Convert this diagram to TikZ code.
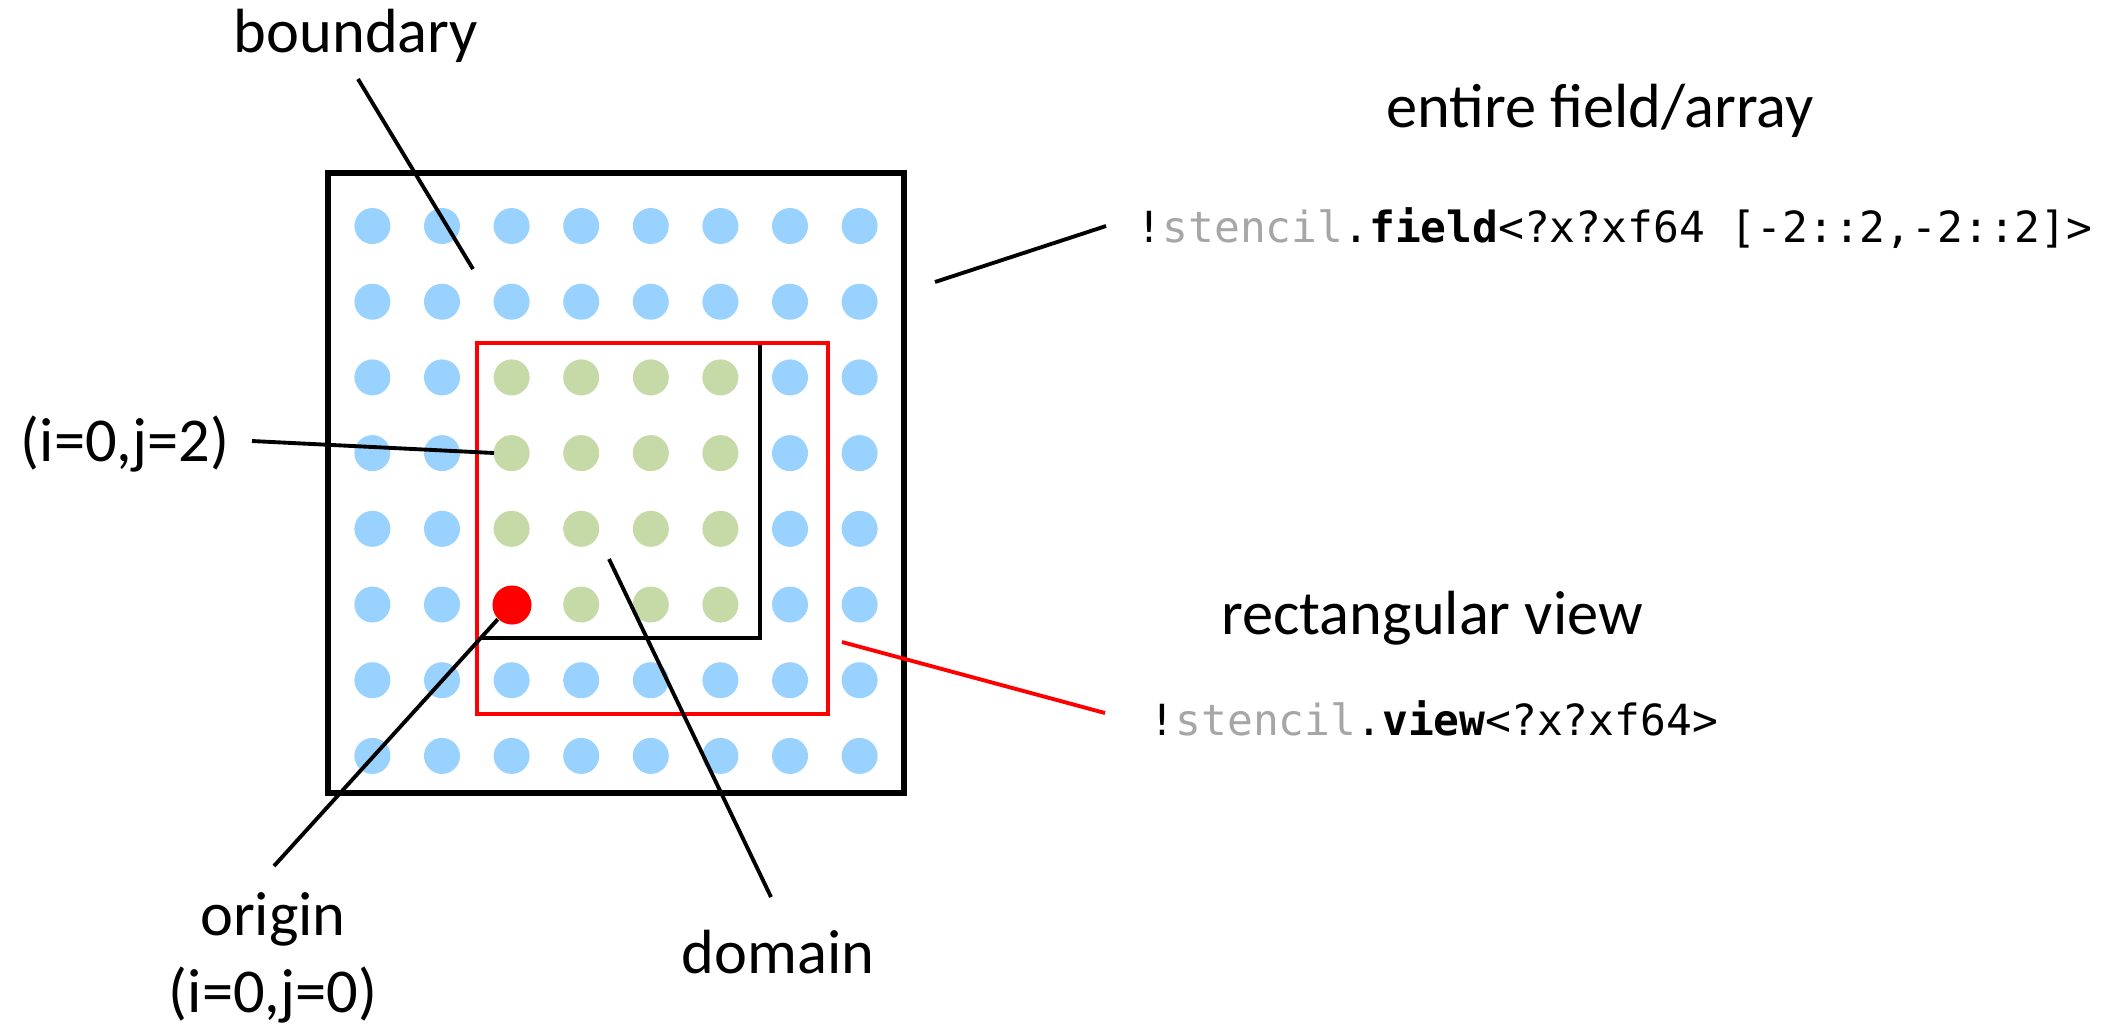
\documentclass[tikz,border=0pt]{standalone}
\usepackage{fontspec}
\setmainfont{Carlito}
\newfontfamily\codefont{DejaVu Sans Mono}
\usetikzlibrary{positioning}
\definecolor{dotbleu}{RGB}{153,210,255}
\definecolor{dotvert}{RGB}{197,218,166}
\definecolor{codegris}{RGB}{166,166,166}
\tikzset{
  lbl/.style={inner sep=0pt, anchor=base, font=\fontsize{17.75}{21.7}\selectfont},
  codelbl/.style={inner sep=0pt, anchor=base west, font=\codefont\fontsize{12.2}{14}\selectfont},
  leader/.style={line width=1.1pt}
}

\begin{document}
\begin{tikzpicture}[x=0.01cm, y=-0.01cm]
  \useasboundingbox (0,0) rectangle (2116,1023);

  % Grid points (boundary blue, domain green)
  \foreach \c in {0,...,7}
    \foreach \r in {0,...,7}{
      \def\dotcol{dotbleu}
      \ifnum\c>1 \ifnum\c<6 \ifnum\r>1 \ifnum\r<6 \def\dotcol{dotvert}\fi\fi\fi\fi
      \fill[\dotcol] ({372.4+69.6*\c},{226+75.7*\r}) circle[radius=0.18cm];
    }
  \node[circle, fill=red, inner sep=0pt, minimum size=0.39cm] (orig) at (512,605) {};

  % Field, domain and view
  \draw[line width=1.6pt] (328,173) rectangle (904,793);
  \draw[line width=1.3pt] (480,638) -- (760,638) -- (760,343);
  \draw[red, line width=1.4pt] (477,343) rectangle (828,714);

  % Labels
  \node[lbl] (bnd) at (356,52) {boundary};
  \node[lbl] (fld) at (1600,127) {entire field/array};
  \node[codelbl] (fldcode) at (1136,242) {!\textcolor{codegris}{stencil}.\textbf{field}<?x?xf64 [-2::2,-2::2]>};
  \node[lbl] (vw) at (1432,634) {rectangular view};
  \node[codelbl] (vwcode) at (1149,735) {!\textcolor{codegris}{stencil}.\textbf{view}<?x?xf64>};
  \node[lbl] (ij2) at (125,461) {(i=0,j=2)};
  \node[lbl, align=center] (orglbl) at (273,1012) {origin\\(i=0,j=0)};
  \node[lbl] (dom) at (778,973) {domain};

  % Leaders
  \coordinate (bnd-a) at (358,79);   \coordinate (bnd-b) at (473,269);
  \coordinate (ij2-a) at (252,441);  \coordinate (ij2-b) at (494,453);
  \coordinate (org-a) at (274,866);
  \coordinate (dom-a) at (609,559);  \coordinate (dom-b) at (771,897);
  \coordinate (fld-a) at (935,282);  \coordinate (fld-b) at (1106,226);
  \coordinate (vw-a) at (842,642);   \coordinate (vw-b) at (1105,713);
  \draw[leader] (bnd-a) -- (bnd-b);
  \draw[leader] (ij2-a) -- (ij2-b);
  \draw[leader] (orig.225) -- (org-a);
  \draw[leader] (dom-a) -- (dom-b);
  \draw[leader] (fld-a) -- (fld-b);
  \draw[leader, red] (vw-a) -- (vw-b);
\end{tikzpicture}
\end{document}
